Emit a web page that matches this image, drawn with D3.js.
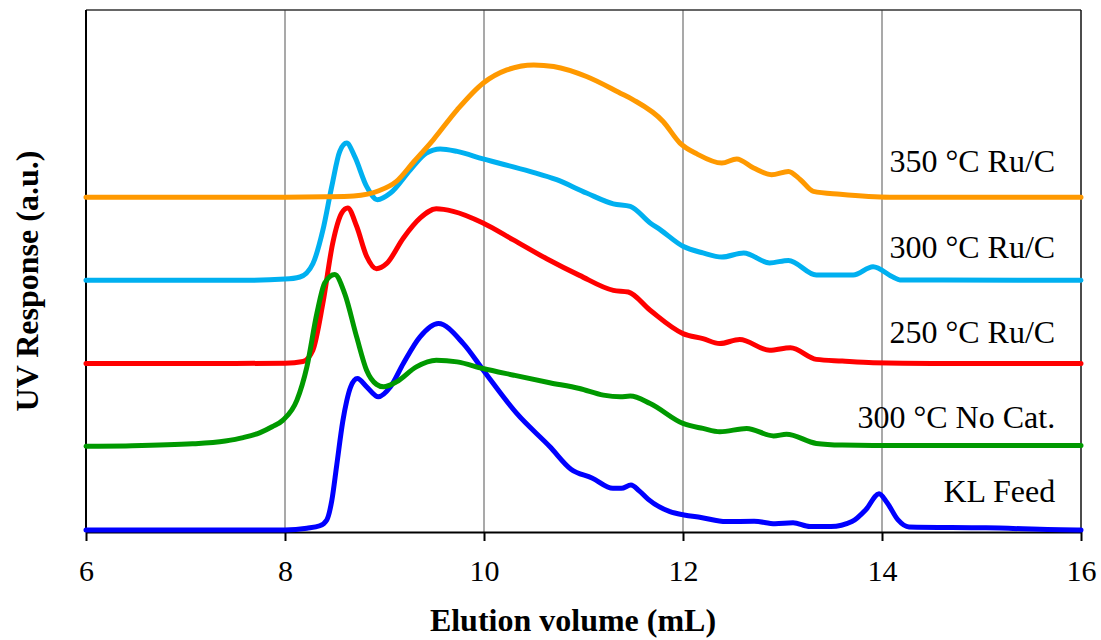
<!DOCTYPE html>
<html>
<head>
<meta charset="utf-8">
<script src="https://cdn.jsdelivr.net/npm/d3@7"></script>
<style>
  body { margin: 0; background: #fff; }
  svg text { font-family: "Liberation Serif", "Times New Roman", serif; fill: #000; }
</style>
</head>
<body>
<svg id="chart" width="1101" height="640"></svg>
<script>
// elution volume (mL) vs UV response (a.u.), each trace stacked on its own offset
var klFeed = [[6,0],[7,0],[8,0],[8.22,0.02],[8.35,0.05],[8.42,0.12],[8.47,0.35],[8.52,0.78],[8.58,1.3],[8.62,1.55],
  [8.66,1.72],[8.727,1.82],[8.821,1.72],[8.938,1.6],[9.06,1.72],[9.189,2.0],[9.357,2.32],[9.541,2.48],[9.792,2.24],
  [9.993,1.92],[10.329,1.4],[10.663,1.0],[10.874,0.73],[11.085,0.625],[11.296,0.5],[11.38,0.5],[11.477,0.54],
  [11.56,0.47],[11.648,0.37],[11.869,0.22],[12.01,0.18],[12.181,0.15],[12.432,0.1],[12.714,0.105],[12.925,0.075],
  [13.106,0.085],[13.276,0.04],[13.487,0.04],[13.698,0.1],[13.839,0.245],[13.97,0.435],[14.05,0.33],[14.161,0.12],
  [14.271,0.035],[15.045,0.025],[15.96,0],[16,0]];
var noCat300 = [[6,0.005],[6.4,0.01],[7.07,0.035],[7.4,0.07],[7.58,0.11],[7.75,0.17],[7.87,0.24],[7.98,0.32],
  [8.12,0.56],[8.22,0.96],[8.32,1.6],[8.4,1.97],[8.5,2.07],[8.6,1.84],[8.72,1.32],[8.82,0.92],[8.92,0.75],[8.99,0.72],
  [9.12,0.78],[9.32,0.96],[9.52,1.04],[9.73,1.02],[9.99,0.94],[10.3,0.86],[10.66,0.77],[10.96,0.7],[11.2,0.62],
  [11.37,0.6],[11.47,0.61],[11.67,0.52],[12.0,0.28],[12.2,0.22],[12.37,0.18],[12.64,0.22],[12.91,0.13],[13.04,0.15],
  [13.34,0.04],[13.6,0.02],[13.91,0.015],[14.5,0.015],[16,0.015]];
var ruC250 = [[6,0],[7.5,0],[8.0,0.005],[8.18,0.025],[8.28,0.16],[8.38,0.72],[8.48,1.45],[8.57,1.81],[8.63,1.87],
  [8.72,1.65],[8.82,1.29],[8.92,1.14],[9.02,1.2],[9.19,1.51],[9.36,1.75],[9.52,1.86],[9.69,1.83],[9.99,1.69],
  [10.29,1.49],[10.63,1.26],[10.96,1.06],[11.3,0.88],[11.45,0.86],[11.67,0.64],[12.0,0.36],[12.2,0.3],[12.37,0.24],
  [12.57,0.29],[12.87,0.16],[13.08,0.19],[13.34,0.05],[13.6,0.03],[13.91,0.01],[14.5,0],[16,0]];
var ruC300 = [[6,0],[7.5,0],[8.0,0.015],[8.15,0.04],[8.28,0.2],[8.38,0.6],[8.47,1.13],[8.55,1.55],[8.62,1.65],
  [8.7,1.49],[8.82,1.13],[8.93,0.97],[9.06,1.05],[9.26,1.33],[9.42,1.53],[9.56,1.58],[9.73,1.55],[9.99,1.46],
  [10.46,1.31],[10.73,1.21],[11.03,1.05],[11.3,0.92],[11.47,0.89],[11.67,0.69],[11.77,0.61],[12.0,0.41],[12.2,0.33],
  [12.39,0.28],[12.61,0.33],[12.87,0.21],[13.06,0.24],[13.34,0.065],[13.71,0.065],[13.91,0.165],[14.11,0.04],
  [14.18,0.005],[16,0]];
var ruC350 = [[6,0],[8,0],[8.4,0.005],[8.69,0.015],[8.95,0.08],[9.12,0.19],[9.29,0.42],[9.49,0.69],[9.73,1.05],
  [9.99,1.37],[10.23,1.53],[10.5,1.59],[10.7,1.57],[11.03,1.45],[11.37,1.25],[11.5,1.17],[11.8,0.91],[11.97,0.65],
  [12.14,0.52],[12.39,0.41],[12.54,0.46],[12.71,0.35],[12.89,0.27],[13.06,0.31],[13.18,0.21],[13.31,0.07],
  [13.58,0.035],[14.08,0],[16,0]];

var seriesNames = ["KL Feed", "250 °C Ru/C", "300 °C No Cat.", "300 °C Ru/C", "350 °C Ru/C"];
var seriesData = [klFeed, ruC250, noCat300, ruC300, ruC350];
var seriesOffsets = [0, 2, 1, 3, 4];
var seriesColors = ["#0000ff", "#ff0000", "#009900", "#00b0f0", "#ff9900"];
// label anchor (end) in data units
var labelPos = [[15.74, 0.336], [15.74, 2.243], [15.74, 1.221], [15.74, 3.272], [15.74, 4.302]];

var xTicks = [6, 8, 10, 12, 14, 16];
var xDomain = [6, 16];
var yDomain = [-0.025, 6.25];

var serif = "'Liberation Serif', 'Times New Roman', serif";
var svg = d3.select("#chart");
var x = d3.scaleLinear().domain(xDomain).range([86, 1081]);
var y = d3.scaleLinear().domain(yDomain).range([532, 10]);

// vertical gridlines
svg.append("g").selectAll("line")
  .data(xTicks.slice(1, -1))
  .enter().append("line")
  .attr("x1", function(d){ return x(d); })
  .attr("x2", function(d){ return x(d); })
  .attr("y1", y.range()[1])
  .attr("y2", y.range()[0])
  .attr("stroke", "#8c8c8c")
  .attr("stroke-width", 1.5);

// frame top / right
svg.append("line").attr("x1", x(6)).attr("x2", x(16)).attr("y1", y(yDomain[1])).attr("y2", y(yDomain[1]))
  .attr("stroke", "#333").attr("stroke-width", 1.5);
svg.append("line").attr("x1", x(16)).attr("x2", x(16)).attr("y1", y(yDomain[1])).attr("y2", y(yDomain[0]))
  .attr("stroke", "#111").attr("stroke-width", 1.5);

// left axis line
svg.append("line").attr("x1", x(6)).attr("x2", x(6)).attr("y1", y(yDomain[1])).attr("y2", y(yDomain[0]))
  .attr("stroke", "#000").attr("stroke-width", 2);

var xAxis = d3.axisBottom(x).tickValues(xTicks).tickSize(9).tickSizeOuter(0).tickFormat(d3.format("d"));
var gx = svg.append("g").attr("transform", "translate(0," + y(yDomain[0]) + ")").call(xAxis);
gx.attr("font-family", serif).attr("font-size", 30);
gx.select(".domain").attr("stroke", "#000").attr("stroke-width", 2);
gx.selectAll(".tick line").attr("stroke", "#000").attr("stroke-width", 2);
gx.selectAll(".tick text")
  .attr("y", 49).attr("dy", 0)
  .style("font-size", "30px")
  .style("font-family", serif)
  .attr("fill", "#000");

// traces
var line = d3.line().curve(d3.curveMonotoneX);
seriesData.forEach(function(data, i) {
  var off = seriesOffsets[i];
  line.x(function(d){ return x(d[0]); }).y(function(d){ return y(d[1] + off); });
  svg.append("path")
    .datum(data)
    .attr("d", line)
    .attr("fill", "none")
    .attr("stroke", seriesColors[i])
    .attr("stroke-width", 5)
    .attr("stroke-linejoin", "round")
    .attr("stroke-linecap", "round");
});

// series labels
svg.append("g").selectAll("text")
  .data(seriesNames)
  .enter().append("text")
  .attr("x", function(d, i){ return x(labelPos[i][0]); })
  .attr("y", function(d, i){ return y(labelPos[i][1]); })
  .attr("text-anchor", "end")
  .style("font-size", "32px")
  .text(function(d){ return d; });

// axis titles
svg.append("text")
  .attr("x", 573).attr("y", 631)
  .attr("text-anchor", "middle")
  .style("font-size", "32px").style("font-weight", "bold")
  .text("Elution volume (mL)");
svg.append("text")
  .attr("transform", "translate(38,281) rotate(-90)")
  .attr("text-anchor", "middle")
  .style("font-size", "32px").style("font-weight", "bold")
  .text("UV Response (a.u.)");
</script>
</body>
</html>
